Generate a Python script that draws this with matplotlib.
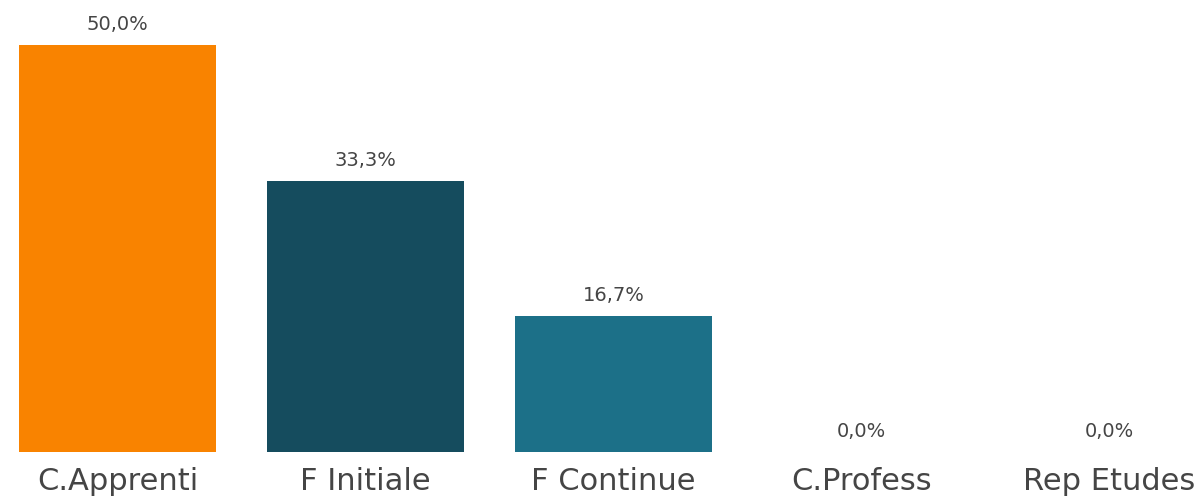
import matplotlib
matplotlib.use("Agg")
import matplotlib.pyplot as plt
import matplotlib.transforms as mtransforms

categories = ["C.Apprenti", "F Initiale", "F Continue", "C.Profess", "Rep Etudes"]
values = [50.0, 33.3, 16.7, 0.0, 0.0]
value_labels = ["50,0%", "33,3%", "16,7%", "0,0%", "0,0%"]
colors = ["#F98300", "#154C5E", "#1C7088", "#1C7088", "#1C7088"]

fig = plt.figure(figsize=(12.01, 5.0), dpi=100)
ax = fig.add_axes([0, 48 / 500, 1, 452 / 500])
x = list(range(len(categories)))
ax.bar(x, values, width=197 / 248, color=colors)
ax.set_xlim(-117.5 / 248, (1201 - 117.5) / 248)
ax.set_ylim(0, 50 * 452 / 407)
ax.axis("off")

txt_color = "#454545"
for xi, v, lab in zip(x, values, value_labels):
    ax.annotate(lab, (xi, v), xytext=(0, 15), textcoords="offset points",
                ha="center", va="center", fontsize=14, color=txt_color,
                family="DejaVu Sans")

trans = mtransforms.blended_transform_factory(ax.transData, ax.transAxes)
for xi, cat in zip(x, categories):
    ax.annotate(cat, (xi, 0), xycoords=trans, xytext=(0, -21), textcoords="offset points",
                ha="center", va="center", fontsize=22, color=txt_color,
                family="DejaVu Sans", annotation_clip=False)

fig.savefig("out.png", dpi=100)
